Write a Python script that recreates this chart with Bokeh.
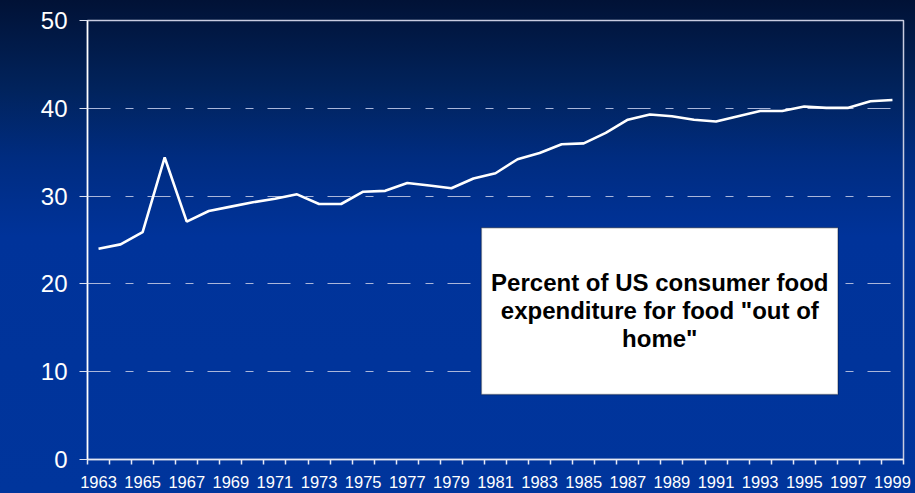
from bokeh.plotting import figure
from bokeh.models import (Range1d, FixedTicker, BoxAnnotation, Label,
                          GlobalInlineStyleSheet, BasicTickFormatter)
from bokeh.embed import file_html
from bokeh.resources import INLINE

# ---- data ----
years = list(range(1963, 2000))
pct_out_of_home = [24.0, 24.5, 25.9, 34.4, 27.1, 28.3, 28.8, 29.3, 29.7, 30.2,
                   29.1, 29.1, 30.5, 30.6, 31.5, 31.2, 30.9, 32.0, 32.6, 34.2,
                   34.9, 35.9, 36.0, 37.2, 38.7, 39.3, 39.1, 38.7, 38.5, 39.1,
                   39.7, 39.7, 40.2, 40.05, 40.05, 40.8, 40.95]
y_ticks = [0, 10, 20, 30, 40, 50]
label_years = years[::2]
box_text = ["Percent of US consumer food",
            "expenditure for food \"out of",
            "home\""]

GRAD = ("linear-gradient(to bottom, #011236 0%, #01235c 18%, #002c80 32%, "
        "#00339a 48%, #00359c 100%)")

p = figure(width=915, height=493, output_backend="svg", toolbar_location=None,
           x_range=Range1d(years[0] - 0.5, years[-1] + 0.5),
           y_range=Range1d(0, 50),
           min_border_left=87, min_border_right=12, min_border_top=20,
           min_border_bottom=34)
p.background_fill_color = None
p.border_fill_color = None
p.outline_line_color = "#c8cce0"
p.outline_line_width = 1.5
p.stylesheets = [GlobalInlineStyleSheet(
    css="html, body { background: %s; background-attachment: fixed; min-height: 100%%; overflow: hidden; }" % GRAD)]

# grid
p.xgrid.visible = False
p.ygrid.ticker = FixedTicker(ticks=y_ticks[1:-1])
p.ygrid.grid_line_color = "#aab6da"
p.ygrid.grid_line_width = 1
p.ygrid.grid_line_dash = "23 15 8 14"

# y axis
ya = p.yaxis[0]
ya.ticker = FixedTicker(ticks=y_ticks)
ya.axis_line_color = "white"
ya.axis_line_width = 1.5
ya.major_tick_line_color = "#dde2f0"
ya.major_tick_out = 8
ya.major_tick_in = 0
ya.minor_tick_line_color = None
ya.major_label_text_color = "white"
ya.major_label_text_font = "Liberation Sans"
ya.major_label_text_font_size = "24px"
ya.major_label_standoff = 12

# x axis: labels at every other year, small ticks between years
xa = p.xaxis[0]
xa.ticker = FixedTicker(ticks=label_years,
                        minor_ticks=[y - 0.5 for y in years] + [years[-1] + 0.5])
xa.formatter = BasicTickFormatter(use_scientific=False)
xa.axis_line_color = "#e6e9f4"
xa.axis_line_width = 1.5
xa.major_tick_line_color = None
xa.major_tick_out = 0
xa.major_tick_in = 0
xa.minor_tick_line_color = "#e6e9f4"
xa.minor_tick_line_width = 1.5
xa.minor_tick_out = 5
xa.minor_tick_in = 0
xa.major_label_text_color = "white"
xa.major_label_text_font = "Liberation Sans"
xa.major_label_text_font_size = "16.5px"
xa.major_label_standoff = 11

# the series
p.line(years, pct_out_of_home, line_color="white", line_width=2.6)

# "%" axis title, horizontal
p.add_layout(Label(x=-78, x_units="screen", y=25, y_units="data", text="%",
                   text_color="white", text_font="Liberation Sans",
                   text_font_style="bold", text_font_size="21px",
                   text_baseline="middle", text_align="left"))

# text box
p.add_layout(BoxAnnotation(left=1980.36, right=1996.53, top=26.4, bottom=7.4,
                           fill_color="white", fill_alpha=1.0,
                           line_color="black", line_width=1.5))
for line_txt, yv in zip(box_text, [20.2, 17.0, 13.8]):
    p.add_layout(Label(x=1988.45, y=yv, text=line_txt, text_align="center",
                       text_baseline="middle", text_color="black",
                       text_font="Liberation Sans", text_font_style="bold",
                       text_font_size="24px"))

open("out.html", "w").write(file_html(p, INLINE))
